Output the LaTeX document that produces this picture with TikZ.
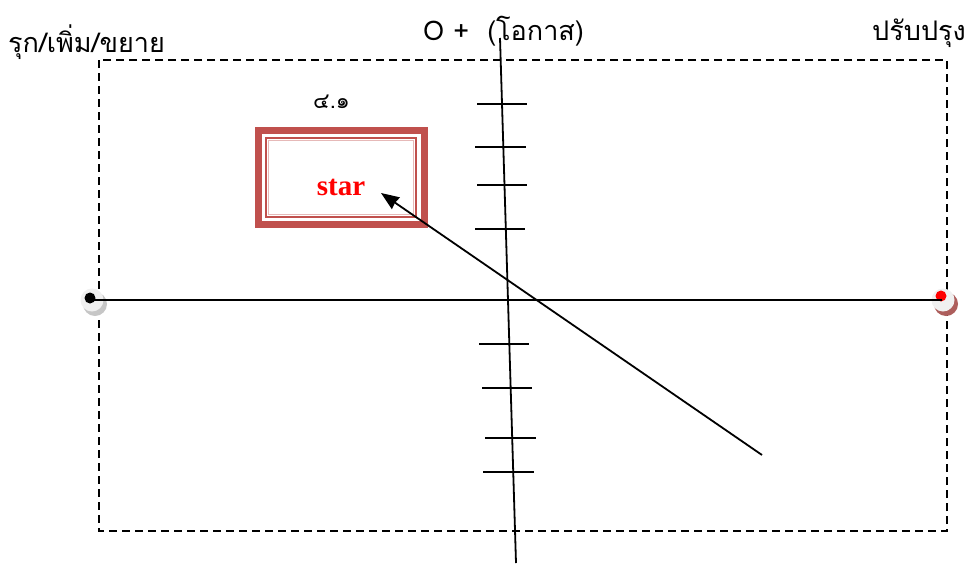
\documentclass[tikz,border=0pt]{standalone}
\usepackage{fontspec}
\setmainfont{Liberation Serif}
\newfontfamily\thaifont[Script=Thai]{Loma}
\usetikzlibrary{arrows.meta}
\definecolor{boxred}{HTML}{C0504D}
\begin{document}
\begin{tikzpicture}[x=1pt,y=-1pt,
  tick/.style={line width=1.8pt},
  axis/.style={line width=1.8pt},
  frame/.style={line width=1.5pt,dash pattern=on 8pt off 5pt},
  thai/.style={font=\thaifont\fontsize{27}{29}\selectfont,inner sep=0pt,anchor=base west}]
\useasboundingbox (0,0) rectangle (971,565);
% dashed frame
\draw[frame] (99,60) rectangle (947,531);
% vertical axis
\coordinate (vt) at (500,38);
\coordinate (vb) at (516,563);
\draw[axis] (vt) -- (vb);
% ticks
\foreach \y/\a/\b [count=\i] in {104/477/527,147/475/526,185/477/527,229/475/525,344/479/529,388/482/532,438/485/536,472/483/534}
  \draw[tick] (\a,\y) -- (\b,\y);
% horizontal axis with end circles
\fill[gray!45] (95,304) circle (12);
\fill[gray!12] (92,300) circle (11.5);
\fill[black] (90,298) circle (5.5);
\fill[boxred!70!gray] (946,304) circle (12);
\fill[gray!12] (943,300) circle (11.5);
\fill[red] (941,296) circle (5.5);
\coordinate (hl) at (90,300);
\coordinate (hr) at (942,300);
\draw[axis] (hl) -- (hr);
% star box
\fill[boxred] (255,127) rectangle (428,228);
\fill[white] (262,134) rectangle (421,221);
\draw[boxred,line width=2.2pt] (266,138) rectangle (416,217);
\draw[boxred!40,line width=0.8pt] (268.8,140.8) rectangle (413.2,214.2);
\node[font=\bfseries\fontsize{29}{30}\selectfont,text=red,inner sep=0pt] (star) at (341,187) {star};
% arrow
\coordinate (as) at (762,455);
\coordinate (ae) at (381,193);
\draw[line width=1.8pt,-{Stealth[length=18pt,width=14pt,inset=1pt]}] (as) -- (ae);
% labels
\node[thai] (l1) at (8,52) {รุก/เพิ่ม/ขยาย};
\node[thai] (l2) at (423,40) {O +\ \ (โอกาส)};
\node[thai] (l3) at (872,40) {ปรับปรุง};
\node[thai,font=\thaifont\fontsize{22}{24}\selectfont] (l4) at (313,108) {๔.๑};
\end{tikzpicture}
\end{document}
